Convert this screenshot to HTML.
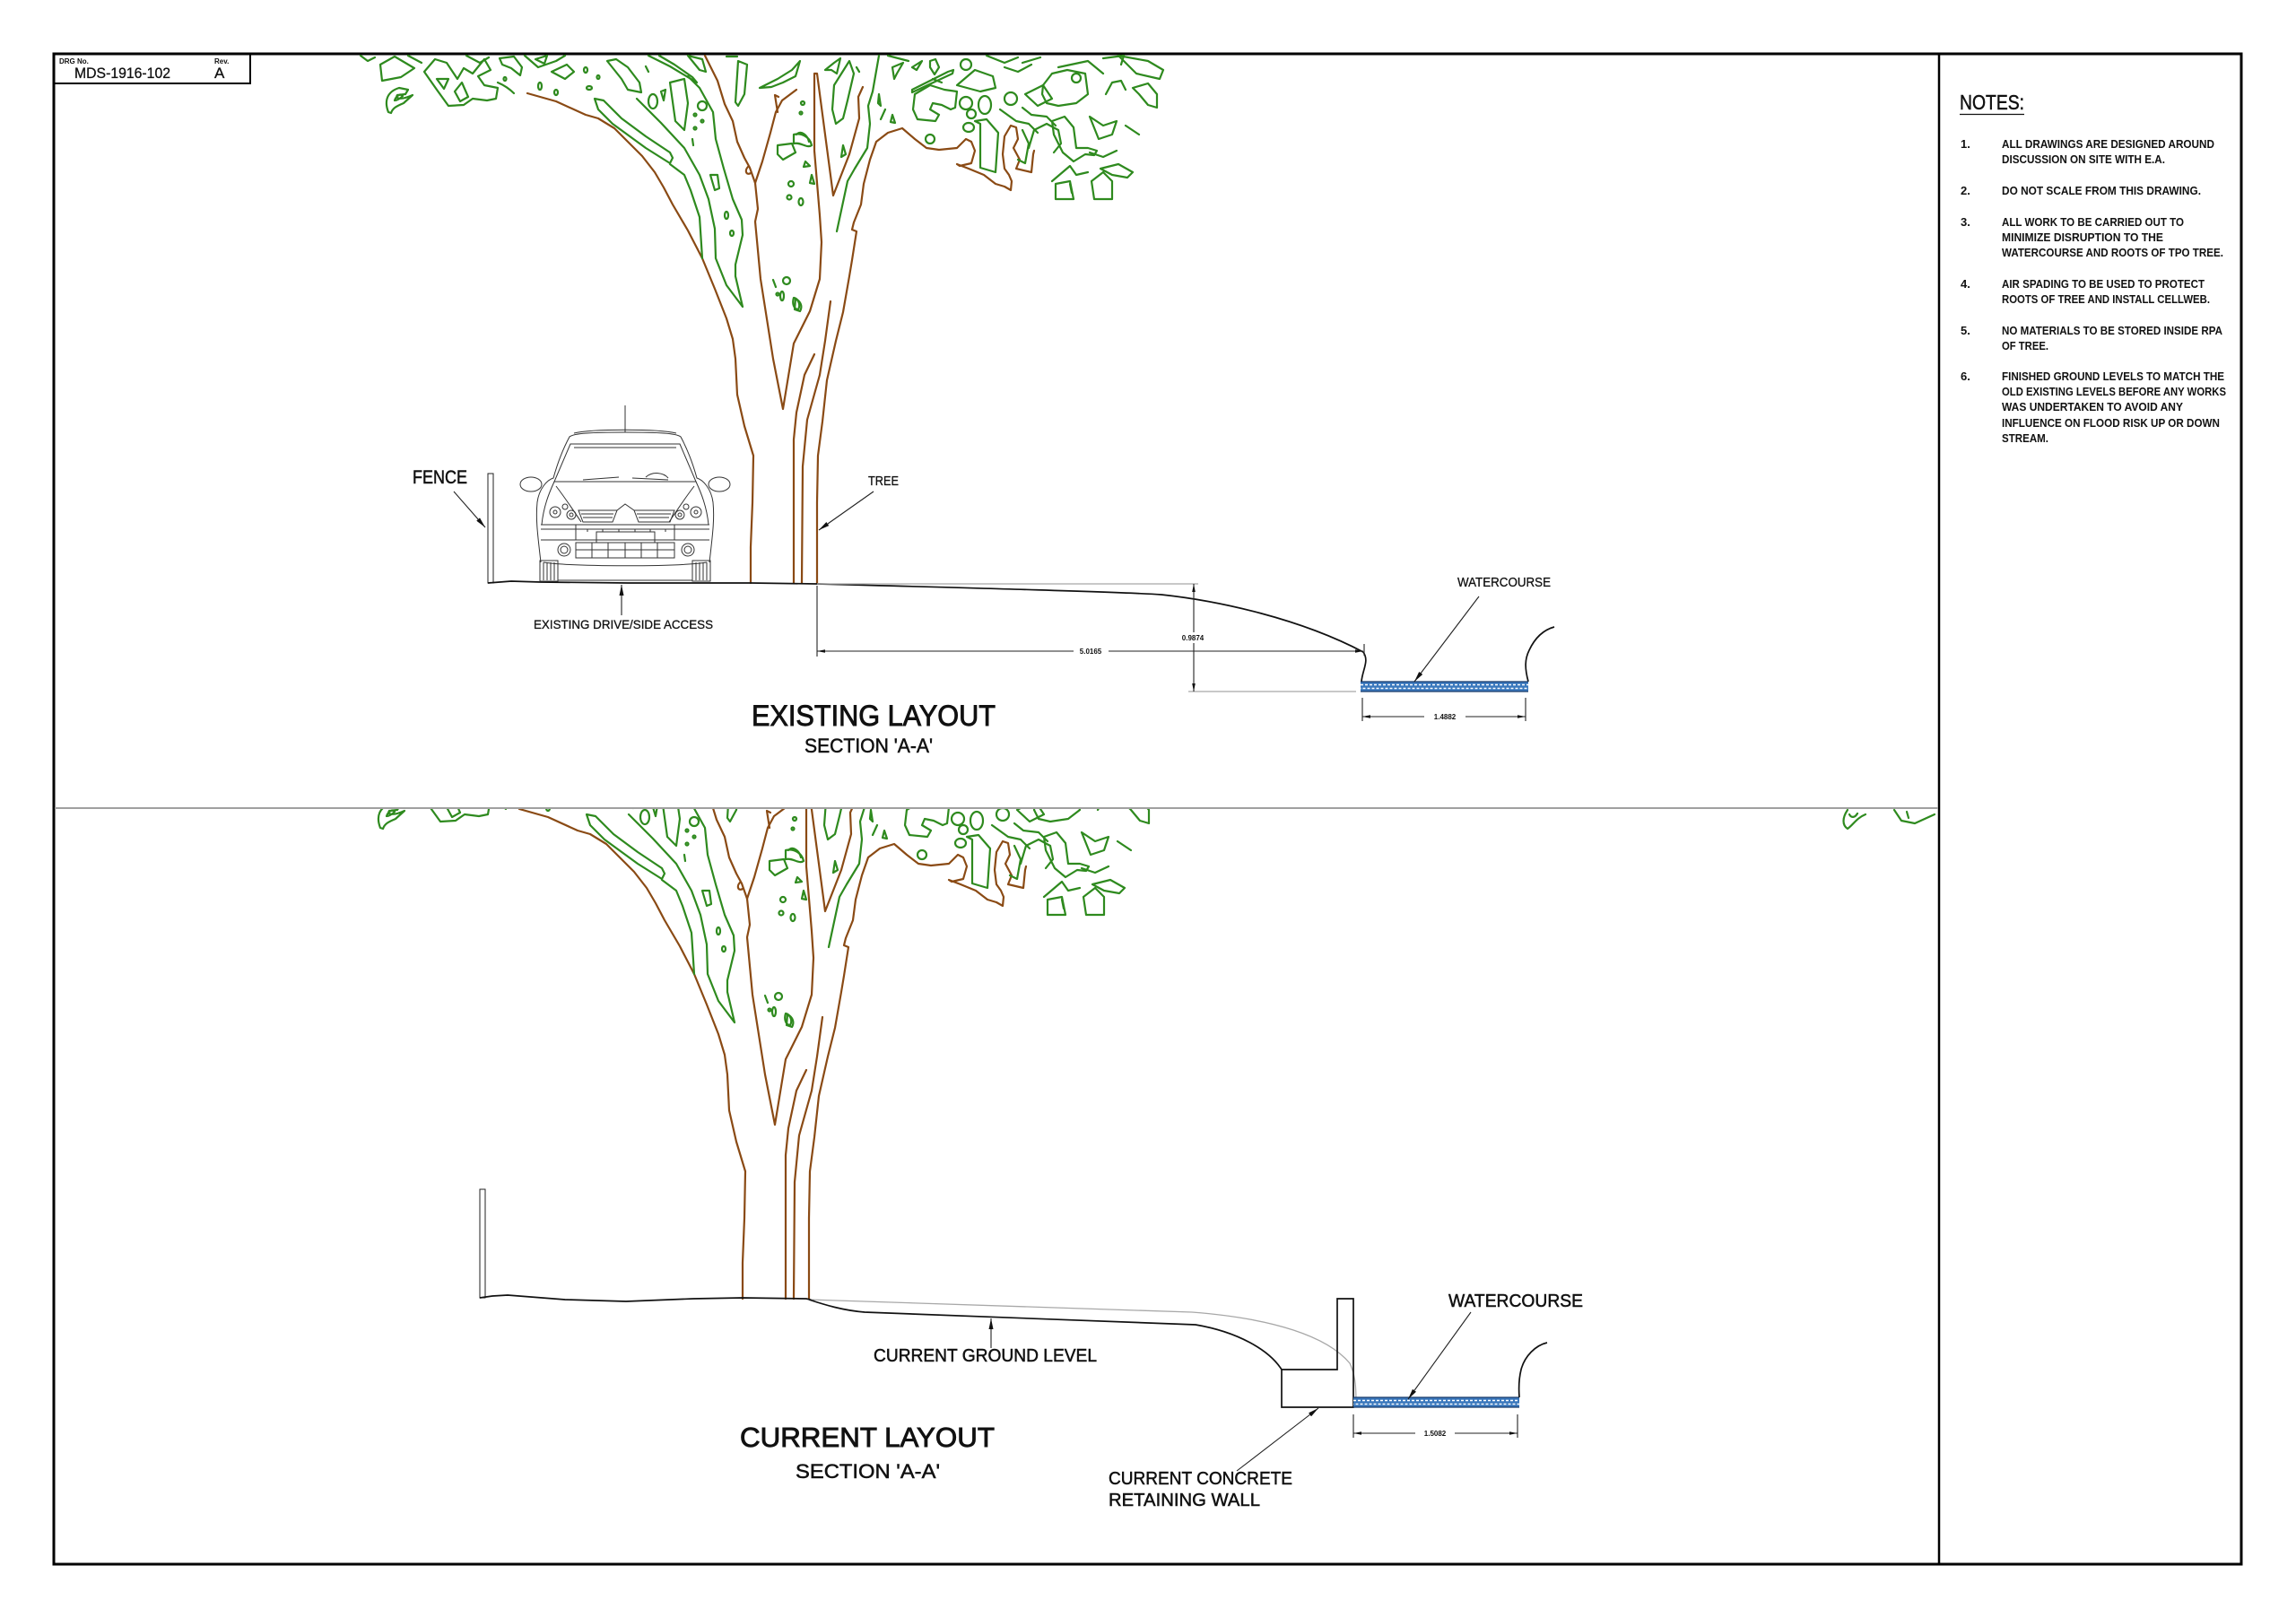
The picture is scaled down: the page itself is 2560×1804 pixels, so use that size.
<!DOCTYPE html>
<html><head><meta charset="utf-8">
<style>
html,body{margin:0;padding:0;background:#fff;}
svg{display:block;}
text{font-family:"Liberation Sans",Arial,sans-serif;fill:#111;}
.h1{stroke:#111;stroke-width:0.9;}
.h2{stroke:#111;stroke-width:0.5;}
.h3{stroke:#111;stroke-width:0.3;}
.g{fill:none;stroke:#2e8a1e;stroke-width:2.2;stroke-linejoin:round;stroke-linecap:round;}
.b{fill:none;stroke:#8a4a14;stroke-width:2.2;stroke-linejoin:round;stroke-linecap:round;}
.k{fill:none;stroke:#111;stroke-width:1.7;}
.t{fill:none;stroke:#222;stroke-width:1.1;}
.c{fill:none;stroke:#333;stroke-width:1;}
.gr{fill:none;stroke:#a8a8a8;stroke-width:1.3;}
.nt{font-size:13px;font-weight:bold;}
</style></head><body>
<svg width="2560" height="1804" viewBox="0 0 2560 1804" xmlns="http://www.w3.org/2000/svg">
<defs>
 <marker id="da" viewBox="0 0 10 4" refX="10" refY="2" markerWidth="9" markerHeight="3.6" markerUnits="userSpaceOnUse" orient="auto-start-reverse"><path d="M0,0 L10,2 L0,4 Z" fill="#111"/></marker>
 <marker id="la" viewBox="0 0 12 5" refX="12" refY="2.5" markerWidth="12" markerHeight="5" markerUnits="userSpaceOnUse" orient="auto"><path d="M0,0 L12,2.5 L0,5 Z" fill="#111"/></marker>
 <clipPath id="clipTop"><rect x="61" y="61" width="2100" height="839"/></clipPath>
 <clipPath id="clipBot"><rect x="61" y="902" width="2100" height="840"/></clipPath>
 <g id="tree">
  <polyline class="b" points="588,104 620,113 653,128 667,132 685,143 700,158 716,174 730,192 740,209 750,228 767,257 783,288 797,322 810,355 817,378 820,400 822,440 830,475 840,508 839,560 837,610 837,650"/>
  <polyline class="b" points="786,62 800,90 808,116 817,135 822,158 830,176 836,187 842,204 850,180 859,148 865,125 872,112 888,100"/>
  <path class="b" d="M867,125 L864,106 L868,108 M834,186 C830,190 832,196 837,193"/>
  <polyline class="b" points="842,204 845,233 842,247 848,311 862,400 873,456 885,383 903,347 914,311 916,270 914,240 908,168 908,82 911,82 929,218 947,172 958,132 957,108 962,97"/>
  <polyline class="b" points="1153,168 1152,172 1150,192 1133,188 1137,178 1130,165 1135,155 1133,142 1127,140 1120,152 1118,172 1120,188 1125,195 1128,202 1127,212 1120,208 1110,205 1097,195 1080,188 1067,183 1070,185 1083,182 1087,168 1083,158 1077,155 1067,165 1047,167 1033,165 1020,155 1006,143 990,148 977,158 970,178 963,205 960,228 952,248 950,256 955,258 950,290 947,308 940,348 932,380 922,424 917,470 912,508 911,560 911,650"/>
  <polyline class="b" points="908,395 897,418 888,460 885,490 885,650"/>
  <polyline class="b" points="926,336 920,380 914,418 900,468 895,520 894,650"/>
  <path class="g" d="M663,110 L673,112 L693,132 L720,152 L747,170 L750,176 L747,182 L720,165 L683,138 L667,122 Z"/>
  <path class="g" d="M710,110 L737,137 L763,165 L780,195 L790,222 L797,255 L798,288 L810,318 L828,342 L820,308 L820,295 L828,262 L827,245 L817,222 L807,188 L798,155 L795,125 L780,98 L767,85"/>
  <path class="g" d="M747,183 L763,195 L770,212 L780,242 L783,288"/>
  <path class="g" d="M980,62 L973,102 L968,118 L970,138 L967,165 L953,188 L945,202 L933,258"/>
  <path class="g" d="M930,95 L947,68 L952,82 L945,112 L940,132 L932,138 L928,122 Z"/>
  <path class="g" d="M402,62 L410,68 L418,64 M426,90 L424,72 L440,63 L462,76 L447,86 Z"/>
  <path class="g" d="M433,125 C428,112 432,102 445,98 L455,100 L452,105 L443,106 C440,110 447,112 460,106 L450,115 C443,118 438,120 436,126 Z M440,112 C442,106 447,104 449,107 C446,110 443,112 440,112 Z"/>
  <path class="g" d="M473,80 L487,100 L500,118 L517,117 L527,110 L543,112 L553,110 L555,98 L540,95 L533,85 L547,78 L540,66 L527,82 L517,76 L510,88 L498,70 L485,66 Z"/>
  <path class="g" d="M487,88 L500,88 L495,99 Z M507,102 L515,92 L522,108 L513,113 Z M557,65 L573,63 L582,75 L580,84 L570,76 L560,72 Z M597,66 L610,62 L607,71 Z M555,92 C562,95 568,99 573,104"/>
  <path class="g" d="M520,62 L535,70 L545,64 M585,62 L600,75 L620,68 L630,62 M615,80 L630,88 L640,80 L632,72 Z M455,62 L470,70"/>
  <path class="g" d="M677,68 L687,66 L700,75 L713,92 L715,103 L700,100 L693,88 Z M720,74 L723,80 M723,62 L747,74 L777,92 L772,86 L752,72 L735,62 M767,62 L783,66 L787,80 L780,78 Z"/>
  <path class="g" d="M737,102 L742,100 L740,112 Z M747,92 L763,88 L767,115 L763,145 L753,135 Z M792,195 L800,195 L802,210 L797,212 Z M823,68 L833,72 L830,105 L823,118 L820,114 Z M847,98 L867,88 L883,78 L892,68 L887,85 L873,92 L860,97 Z M810,63 L822,63 M867,162 L883,160 L887,170 L873,178 L867,172 Z M888,150 C893,145 900,150 902,158 M862,312 L865,320 M885,332 C890,333 893,340 890,345 C885,345 883,338 885,332 Z M772,155 L773,162"/>
  <ellipse class="g" cx="728" cy="113" rx="5" ry="8"/>
  <circle class="g" cx="783" cy="118" r="5"/>
  <ellipse class="g" cx="563" cy="88" rx="1.5" ry="2"/><ellipse class="g" cx="602" cy="96" rx="2" ry="4"/><ellipse class="g" cx="620" cy="103" rx="2" ry="3"/><ellipse class="g" cx="653" cy="78" rx="2" ry="3"/><ellipse class="g" cx="657" cy="98" rx="3" ry="2"/><ellipse class="g" cx="667" cy="86" rx="1.5" ry="2"/>
  <circle class="g" cx="775" cy="128" r="1.5"/><circle class="g" cx="783" cy="135" r="1.5"/><circle class="g" cx="775" cy="143" r="1.5"/>
  <ellipse class="g" cx="810" cy="240" rx="2" ry="4"/><ellipse class="g" cx="816" cy="260" rx="2" ry="3"/>
  <circle class="g" cx="882" cy="205" r="3"/><circle class="g" cx="880" cy="220" r="2.5"/><ellipse class="g" cx="893" cy="225" rx="2.5" ry="4"/>
  <circle class="g" cx="877" cy="313" r="4"/><ellipse class="g" cx="872" cy="330" rx="2" ry="5"/><circle class="g" cx="867" cy="328" r="1.5"/>
  <path class="g" d="M920,78 L930,70 L937,65 L933,82 L927,78 Z M955,75 L958,80 M885,150 C893,148 903,152 905,162 C900,166 893,158 885,160 Z M898,180 L903,185 L896,186 Z M905,195 L908,205 L903,204 Z M940,162 L943,172 L938,175 Z M980,105 L982,118 L979,115 Z M987,122 L982,133 M995,128 L998,137 L993,136 Z M887,333 C893,336 895,342 892,347 L886,345 Z"/>
  <circle class="g" cx="895" cy="115" r="2"/><circle class="g" cx="893" cy="126" r="1.5"/>
  <path class="g" d="M990,62 L1013,68 M995,75 L1007,70 L1000,82 L997,88 Z M1017,75 L1028,68 L1022,78 Z M1037,68 L1043,66 L1047,75 L1042,83 L1037,75 Z M1017,103 L1062,82 L1063,78 L1057,80 L1017,100 Z"/>
  <path class="g" d="M1020,105 L1037,95 L1053,100 L1067,102 L1065,120 L1060,122 L1050,117 L1040,115 L1037,122 L1047,128 L1043,135 L1023,133 L1018,122 Z"/>
  <circle class="g" cx="1077" cy="72" r="6"/><circle class="g" cx="1077" cy="115" r="7"/><ellipse class="g" cx="1098" cy="117" rx="7" ry="10"/><circle class="g" cx="1127" cy="110" r="7"/><circle class="g" cx="1200" cy="87" r="5"/><circle class="g" cx="1037" cy="155" r="5"/><circle class="g" cx="1083" cy="127" r="5"/><ellipse class="g" cx="1080" cy="142" rx="6" ry="5"/>
  <path class="g" d="M1067,95 L1087,78 L1107,85 L1110,98 L1093,102 Z M1087,135 L1100,133 L1113,148 L1110,192 L1093,187 L1093,138 Z M1115,122 L1133,135 L1147,138 L1157,148 M1143,105 L1157,118 L1173,110 L1163,95 Z"/>
  <path class="g" d="M1163,95 L1173,82 L1190,78 L1210,82 L1213,105 L1200,115 L1180,118 L1167,115 L1162,105 Z M1180,75 L1213,68 L1230,82 M1230,65 L1253,62 L1250,72 M1247,62 L1267,82 L1293,88 L1297,78 L1280,68 Z M1233,105 L1240,92 L1250,90 L1255,100 M1263,98 L1280,93 L1290,105 L1290,120 L1280,117 L1270,105 Z"/>
  <path class="g" d="M1173,135 L1187,130 L1197,142 L1200,165 L1213,165 L1223,168 L1220,173 L1210,172 L1197,180 L1185,170 L1175,150 Z M1173,202 L1193,185 L1200,195 L1213,192 M1177,222 L1177,205 L1193,202 L1197,222 Z M1217,202 L1230,192 L1240,202 L1240,222 L1220,222 Z M1227,188 L1247,183 L1263,192 L1257,198 L1240,195 Z M1193,205 L1195,215 M1140,120 L1150,128 L1167,130 L1177,140 M1140,145 L1147,160 L1143,182 L1135,178 M1147,165 L1153,145 L1167,138 L1180,145 L1183,160 L1175,170"/>
  <path class="g" d="M1100,62 L1120,70 L1135,64 M1140,70 L1160,64 M1040,88 L1050,92 M1215,170 L1230,175 L1245,168 M1120,75 L1135,80 L1150,72 M1215,130 L1230,140 L1245,135 L1240,150 L1225,155 Z M1255,140 L1270,150"/>
 </g>
</defs>

<rect x="60" y="60" width="2439" height="1684" fill="none" stroke="#000" stroke-width="3"/>
<line x1="2162" y1="60" x2="2162" y2="1744" stroke="#000" stroke-width="2.5"/>
<line x1="61" y1="901" x2="2161" y2="901" stroke="#a0a0a0" stroke-width="2"/>

<g clip-path="url(#clipTop)"><use href="#tree"/></g>
<g clip-path="url(#clipBot)"><use href="#tree" transform="translate(-9,798)"/></g>
<path class="g" d="M2060,903 C2054,912 2054,920 2060,924 C2066,920 2070,912 2080,908 M2062,908 C2064,912 2068,912 2071,907 M2112,903 L2120,915 L2135,918 L2157,908 M2126,905 L2128,912"/>

<rect x="60" y="60" width="219" height="33" fill="none" stroke="#000" stroke-width="2"/>
<text x="66" y="71" font-size="8" font-weight="bold">DRG No.</text>
<text class="h3" x="83" y="87" font-size="17" textLength="107" lengthAdjust="spacingAndGlyphs">MDS-1916-102</text>
<text x="239" y="71" font-size="8" font-weight="bold">Rev.</text>
<text class="h3" x="239" y="87" font-size="17">A</text>

<rect x="544" y="528" width="6" height="122" fill="none" stroke="#222" stroke-width="1"/>
<text class="h2" x="460" y="539" font-size="21" textLength="61" lengthAdjust="spacingAndGlyphs">FENCE</text>
<line x1="506" y1="548" x2="541" y2="588" class="t" marker-end="url(#la)"/>
<path class="k" d="M544,650 L570,648 L603,649 L700,650 L837,650 L911,651 C1100,656 1250,660 1295,663 C1360,670 1450,690 1520,727"/>
<path class="k" d="M1520,727 C1527,737 1519,747 1518,760 M1704,760 C1700,745 1700,735 1705,725 C1712,710 1722,702 1733,699"/>
<g class="c">
 <line x1="697" y1="452" x2="697" y2="482"/>
 <path d="M603,627 C600,600 597,580 599,560 C601,545 610,535 617,533 C622,515 628,500 635,487 C640,483 660,482 697,482 C734,482 754,483 759,487 C766,500 772,515 777,533 C784,535 793,545 795,560 C797,580 794,600 791,627"/>
 <path d="M640,483 C660,478 734,478 754,483"/>
 <path d="M636,495 L758,495 L776,537 L618,537 Z"/>
 <path d="M640,499 L754,499"/>
 <ellipse cx="592" cy="540" rx="12" ry="8"/><ellipse cx="802" cy="540" rx="12" ry="8"/>
 <path d="M618,537 C612,550 606,565 604,585 M776,537 C782,550 788,565 790,585"/>
 <path d="M620,542 C630,555 640,570 648,582 M774,542 C764,555 754,570 746,582"/>
 <path d="M650,535 L690,532 M705,533 L745,535 M720,532 C728,525 740,527 745,533"/>
 <circle cx="619" cy="571" r="6"/><circle cx="619" cy="571" r="2"/><circle cx="630" cy="565" r="3"/><circle cx="637" cy="574" r="5"/><circle cx="637" cy="574" r="2"/>
 <circle cx="776" cy="571" r="6"/><circle cx="776" cy="571" r="2"/><circle cx="765" cy="565" r="3"/><circle cx="758" cy="574" r="5"/><circle cx="758" cy="574" r="2"/>
 <path d="M645,569 L688,569 L683,582 L650,582 Z M707,569 L752,569 L747,582 L712,582 Z"/>
 <path d="M648,573 L684,573 M650,577 L683,577 M710,573 L748,573 M712,577 L746,577"/>
 <path d="M688,569 L697,562 L707,569"/>
 <path d="M603,585 L791,585 M603,602 L791,602 M603,590 L791,590"/>
 <path d="M642,585 L642,602 M752,585 L752,602"/>
 <path d="M655,590 L655,593 M672,590 L672,593 M690,590 L690,593 M708,590 L708,593 M725,590 L725,593 M742,590 L742,593"/>
 <rect x="665" y="593" width="65" height="12"/>
 <path d="M642,605 L752,605 L752,622 L642,622 Z M642,613 L752,613"/>
 <path d="M660,605 L660,622 M678,605 L678,622 M697,605 L697,622 M715,605 L715,622 M733,605 L733,622"/>
 <circle cx="629" cy="613" r="7"/><circle cx="629" cy="613" r="4"/><circle cx="767" cy="613" r="7"/><circle cx="767" cy="613" r="4"/>
 <path d="M606,627 C640,632 755,632 788,627"/>
 <rect x="602" y="625" width="20" height="23"/><rect x="772" y="625" width="20" height="23"/>
 <path d="M606,627 L606,647 M610,627 L610,647 M614,627 L614,647 M618,627 L618,647 M776,627 L776,647 M780,627 L780,647 M784,627 L784,647 M788,627 L788,647"/>
 <line x1="622" y1="647" x2="772" y2="647"/>
</g>
<text class="h3" x="968" y="541" font-size="15" textLength="34" lengthAdjust="spacingAndGlyphs">TREE</text>
<line x1="974" y1="548" x2="913" y2="591" class="t" marker-end="url(#la)"/>
<line x1="693" y1="686" x2="693" y2="652" class="t" marker-end="url(#la)"/>
<text class="h3" x="595" y="701" font-size="14" textLength="200" lengthAdjust="spacingAndGlyphs">EXISTING DRIVE/SIDE ACCESS</text>
<line x1="911" y1="651" x2="1336" y2="651" class="gr"/>
<line x1="1325" y1="771" x2="1512" y2="771" class="gr"/>
<line x1="911" y1="653" x2="911" y2="732" class="t"/>
<line x1="1521" y1="718" x2="1521" y2="731" class="t"/>
<line x1="911" y1="726" x2="1197" y2="726" class="t" marker-start="url(#da)"/>
<line x1="1236" y1="726" x2="1520" y2="726" class="t" marker-end="url(#da)"/>
<text x="1216" y="729" font-size="8" font-weight="bold" text-anchor="middle">5.0165</text>
<line x1="1331" y1="651" x2="1331" y2="705" class="t" marker-start="url(#da)"/>
<line x1="1331" y1="717" x2="1331" y2="771" class="t" marker-end="url(#da)"/>
<text x="1330" y="714" font-size="8" font-weight="bold" text-anchor="middle">0.9874</text>
<rect x="1517" y="760" width="187" height="11" fill="#3a78bd"/>
<line x1="1517" y1="763.5" x2="1704" y2="763.5" stroke="#fff" stroke-width="1.4" stroke-dasharray="3 2"/>
<line x1="1517" y1="767.5" x2="1704" y2="767.5" stroke="#fff" stroke-width="1.4" stroke-dasharray="3 2" stroke-dashoffset="2.5"/>
<line x1="1517" y1="760" x2="1704" y2="760" stroke="#1b3c6b" stroke-width="1.3"/>
<line x1="1517" y1="771" x2="1704" y2="771" stroke="#1b3c6b" stroke-width="1.3"/>
<text class="h3" x="1625" y="654" font-size="15" textLength="104" lengthAdjust="spacingAndGlyphs">WATERCOURSE</text>
<line x1="1649" y1="665" x2="1577" y2="760" class="t" marker-end="url(#la)"/>
<line x1="1519" y1="778" x2="1519" y2="804" class="t"/>
<line x1="1701" y1="778" x2="1701" y2="804" class="t"/>
<line x1="1519" y1="799" x2="1588" y2="799" class="t" marker-start="url(#da)"/>
<line x1="1634" y1="799" x2="1701" y2="799" class="t" marker-end="url(#da)"/>
<text x="1611" y="802" font-size="8" font-weight="bold" text-anchor="middle">1.4882</text>
<text class="h1" x="838" y="809" font-size="32" textLength="272" lengthAdjust="spacingAndGlyphs">EXISTING LAYOUT</text>
<text class="h2" x="897" y="839" font-size="22" textLength="143" lengthAdjust="spacingAndGlyphs">SECTION 'A-A'</text>

<rect x="535" y="1326" width="6" height="121" fill="none" stroke="#222" stroke-width="1"/>
<path class="k" d="M535,1447 L549,1445 L566,1444 L630,1449 L698,1451 L773,1448 L828,1447 L899,1448 L908,1450"/>
<path class="gr" d="M902,1449 L1329,1463 C1420,1470 1480,1490 1505,1520 C1512,1535 1512,1550 1512,1568"/>
<path class="k" d="M902,1449 C920,1455 940,1461 964,1463 L1333,1477 C1380,1485 1415,1505 1429,1527"/>
<path d="M1491,1448 L1509,1448 L1509,1569 L1429,1569 L1429,1527 L1491,1527 Z" fill="none" stroke="#111" stroke-width="1.7"/>
<rect x="1509" y="1558" width="185" height="11" fill="#3a78bd"/>
<line x1="1509" y1="1561.5" x2="1694" y2="1561.5" stroke="#fff" stroke-width="1.4" stroke-dasharray="3 2"/>
<line x1="1509" y1="1565.5" x2="1694" y2="1565.5" stroke="#fff" stroke-width="1.4" stroke-dasharray="3 2" stroke-dashoffset="2.5"/>
<line x1="1509" y1="1558" x2="1694" y2="1558" stroke="#1b3c6b" stroke-width="1.3"/>
<line x1="1509" y1="1569" x2="1694" y2="1569" stroke="#1b3c6b" stroke-width="1.3"/>
<path class="k" d="M1694,1558 C1693,1545 1694,1535 1696,1527 C1700,1512 1712,1500 1725,1497"/>
<line x1="1509" y1="1577" x2="1509" y2="1603" class="t"/>
<line x1="1692" y1="1577" x2="1692" y2="1603" class="t"/>
<line x1="1509" y1="1598" x2="1578" y2="1598" class="t" marker-start="url(#da)"/>
<line x1="1622" y1="1598" x2="1692" y2="1598" class="t" marker-end="url(#da)"/>
<text x="1600" y="1601" font-size="8" font-weight="bold" text-anchor="middle">1.5082</text>
<text class="h2" x="1615" y="1457" font-size="20" textLength="150" lengthAdjust="spacingAndGlyphs">WATERCOURSE</text>
<line x1="1640" y1="1463" x2="1570" y2="1560" class="t" marker-end="url(#la)"/>
<line x1="1105" y1="1503" x2="1105" y2="1470" class="t" marker-end="url(#la)"/>
<text class="h2" x="974" y="1518" font-size="20" textLength="249" lengthAdjust="spacingAndGlyphs">CURRENT GROUND LEVEL</text>
<text class="h1" x="825" y="1613" font-size="31" textLength="284" lengthAdjust="spacingAndGlyphs">CURRENT LAYOUT</text>
<text class="h2" x="887" y="1648" font-size="22" textLength="161" lengthAdjust="spacingAndGlyphs">SECTION 'A-A'</text>
<text class="h2" x="1236" y="1655" font-size="20" textLength="205" lengthAdjust="spacingAndGlyphs">CURRENT CONCRETE</text>
<text class="h2" x="1236" y="1679" font-size="20" textLength="169" lengthAdjust="spacingAndGlyphs">RETAINING WALL</text>
<line x1="1379" y1="1640" x2="1470" y2="1570" class="t" marker-end="url(#la)"/>

<text class="h2" x="2185" y="122" font-size="23" textLength="72" lengthAdjust="spacingAndGlyphs">NOTES:</text>
<line x1="2185" y1="127.5" x2="2257" y2="127.5" stroke="#111" stroke-width="1.2"/>
<text class="nt" x="2186" y="165">1.</text>
<text class="nt" x="2232" y="165" textLength="237" lengthAdjust="spacingAndGlyphs">ALL DRAWINGS ARE DESIGNED AROUND</text>
<text class="nt" x="2232" y="182" textLength="182" lengthAdjust="spacingAndGlyphs">DISCUSSION ON SITE WITH E.A.</text>
<text class="nt" x="2186" y="217">2.</text>
<text class="nt" x="2232" y="217" textLength="222" lengthAdjust="spacingAndGlyphs">DO NOT SCALE FROM THIS DRAWING.</text>
<text class="nt" x="2186" y="252">3.</text>
<text class="nt" x="2232" y="252" textLength="203" lengthAdjust="spacingAndGlyphs">ALL WORK TO BE CARRIED OUT TO</text>
<text class="nt" x="2232" y="269" textLength="180" lengthAdjust="spacingAndGlyphs">MINIMIZE DISRUPTION TO THE</text>
<text class="nt" x="2232" y="286" textLength="247" lengthAdjust="spacingAndGlyphs">WATERCOURSE AND ROOTS OF TPO TREE.</text>
<text class="nt" x="2186" y="321">4.</text>
<text class="nt" x="2232" y="321" textLength="226" lengthAdjust="spacingAndGlyphs">AIR SPADING TO BE USED TO PROTECT</text>
<text class="nt" x="2232" y="338" textLength="232" lengthAdjust="spacingAndGlyphs">ROOTS OF TREE AND INSTALL CELLWEB.</text>
<text class="nt" x="2186" y="373">5.</text>
<text class="nt" x="2232" y="373" textLength="246" lengthAdjust="spacingAndGlyphs">NO MATERIALS TO BE STORED INSIDE RPA</text>
<text class="nt" x="2232" y="390" textLength="52" lengthAdjust="spacingAndGlyphs">OF TREE.</text>
<text class="nt" x="2186" y="424">6.</text>
<text class="nt" x="2232" y="424" textLength="248" lengthAdjust="spacingAndGlyphs">FINISHED GROUND LEVELS TO MATCH THE</text>
<text class="nt" x="2232" y="441" textLength="250" lengthAdjust="spacingAndGlyphs">OLD EXISTING LEVELS BEFORE ANY WORKS</text>
<text class="nt" x="2232" y="458" textLength="202" lengthAdjust="spacingAndGlyphs">WAS UNDERTAKEN TO AVOID ANY</text>
<text class="nt" x="2232" y="476" textLength="243" lengthAdjust="spacingAndGlyphs">INFLUENCE ON FLOOD RISK UP OR DOWN</text>
<text class="nt" x="2232" y="493" textLength="52" lengthAdjust="spacingAndGlyphs">STREAM.</text>
</svg>
</body></html>
